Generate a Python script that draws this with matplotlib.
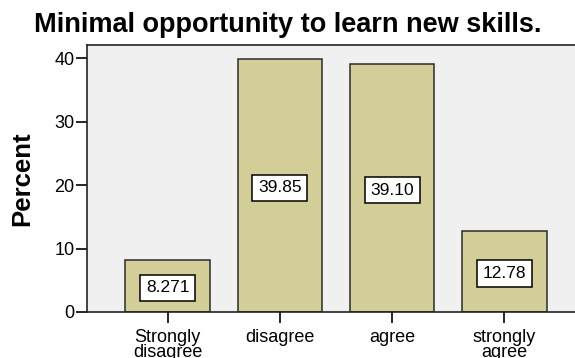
import matplotlib.pyplot as plt

categories = ["Strongly\ndisagree", "disagree", "agree", "strongly\nagree"]
percent = [8.271, 39.85, 39.10, 12.78]
value_labels = ["8.271", "39.85", "39.10", "12.78"]

plt.rcParams['font.family'] = ['Liberation Sans', 'DejaVu Sans']

fig = plt.figure(figsize=(5.75, 3.58), dpi=100)
ax = fig.add_axes([0.1505, 0.1285, 0.8495, 0.7455])
ax.set_facecolor('#f0f0f0')

x = range(len(categories))
ax.bar(x, percent, width=0.755, color='#d3ce98', edgecolor='#2b2b2b', linewidth=1.1, zorder=2)

# value boxes sit near the middle of each bar
for xi, v, lab in zip(x, percent, value_labels):
    ax.text(xi, v / 2 - 0.35, lab, ha='center', va='center', fontsize=12.5, zorder=3,
            bbox=dict(boxstyle='square,pad=0.33', facecolor='white', edgecolor='black', linewidth=1.1))

ax.set_xlim(-0.724, 3.63)
ax.set_ylim(0, 42.05)
ax.set_yticks([0, 10, 20, 30, 40])
ax.set_xticks(list(x))
ax.set_xticklabels(categories, fontsize=13, linespacing=0.85)
ax.tick_params(axis='y', direction='out', length=8, width=1.2, labelsize=13, pad=0.5)
ax.tick_params(axis='x', direction='out', length=8, width=1.2, pad=4)

for side in ['left', 'bottom', 'top']:
    ax.spines[side].set_linewidth(1.2)
    ax.spines[side].set_color('#222222')
ax.spines['right'].set_visible(False)

ax.set_ylabel('Percent', fontsize=18.5, fontweight='bold')
ax.yaxis.set_label_coords(-0.108, 0.5)
fig.text(0.5, 0.93, 'Minimal opportunity to learn new skills.', ha='center', va='center',
         fontsize=19.5, fontweight='bold')

fig.savefig('out.png', dpi=100)
